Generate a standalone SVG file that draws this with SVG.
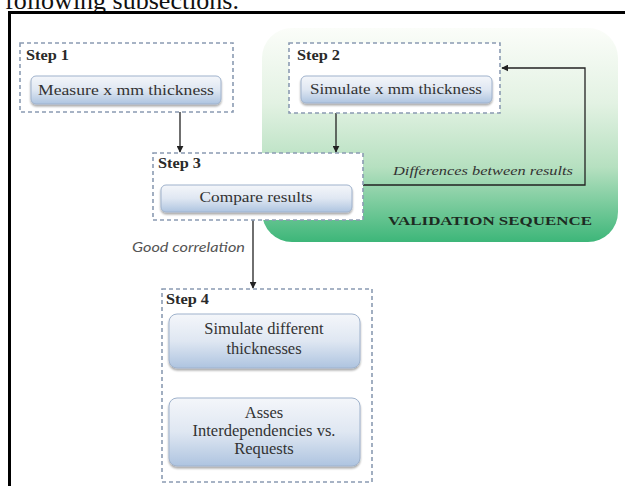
<svg xmlns="http://www.w3.org/2000/svg" width="625" height="486" viewBox="0 0 625 486">
<defs>
<linearGradient id="green" x1="0" y1="0" x2="0" y2="1">
<stop offset="0" stop-color="#fbfdf9"/>
<stop offset="0.35" stop-color="#e3f2e3"/>
<stop offset="0.65" stop-color="#b6e0c0"/>
<stop offset="1" stop-color="#3db679"/>
</linearGradient>
<linearGradient id="btn" x1="0" y1="0" x2="0" y2="1">
<stop offset="0" stop-color="#f4f6fa"/>
<stop offset="0.5" stop-color="#dfe7f2"/>
<stop offset="1" stop-color="#aec4e0"/>
</linearGradient>
<filter id="sh" x="-10%" y="-20%" width="120%" height="150%">
<feGaussianBlur in="SourceAlpha" stdDeviation="1.2"/>
<feOffset dx="0" dy="1.5" result="b"/>
<feComponentTransfer><feFuncA type="linear" slope="0.35"/></feComponentTransfer>
<feMerge><feMergeNode/><feMergeNode in="SourceGraphic"/></feMerge>
</filter>
<marker id="arr" viewBox="0 0 10 10" refX="9" refY="5" markerWidth="7" markerHeight="7" orient="auto" markerUnits="userSpaceOnUse">
<path d="M0,0 L10,5 L0,10 z" fill="#222"/>
</marker>
</defs>
<style>
.step{fill:#ffffff;stroke:#8b9bb2;stroke-width:1.6;stroke-dasharray:4 3}
.btn{fill:url(#btn);stroke:#9fb2cc;stroke-width:1}
.lbl{font-family:"Liberation Serif",serif;font-size:14px;font-weight:bold;fill:#2a2a2a}
.t{font-family:"Liberation Serif",serif;font-size:15px;fill:#333;text-anchor:middle}
.t4{font-family:"Liberation Serif",serif;font-size:16.5px;fill:#333;text-anchor:middle}
.conn{stroke:#222;stroke-width:1.3;fill:none}
</style>
<text x="5" y="9" font-family="Liberation Serif, serif" font-size="26" fill="#111">following subsections.</text>
<rect x="0" y="13" width="625" height="473" fill="#ffffff"/>
<path d="M9.5,486 V12.5 H625" fill="none" stroke="#000" stroke-width="3"/>
<g id="validation">
<rect x="262" y="28" width="356" height="214" rx="30" ry="30" fill="url(#green)"/>
<text x="490" y="225" text-anchor="middle" font-family="Liberation Serif, serif" font-size="13" font-weight="bold" fill="#1d2b22" textLength="204" lengthAdjust="spacingAndGlyphs">VALIDATION SEQUENCE</text>
</g>
<g id="connectors">
<line class="conn" x1="180" y1="112" x2="180" y2="152" marker-end="url(#arr)"/>
<line class="conn" x1="336" y1="113" x2="336" y2="152" marker-end="url(#arr)"/>
<polyline class="conn" points="363,185 585,185 585,68 502,68" stroke="#3a4f42" marker-end="url(#arr)"/>
<text x="483" y="175" text-anchor="middle" font-family="Liberation Serif, serif" font-size="13" font-style="italic" fill="#333" textLength="180" lengthAdjust="spacingAndGlyphs">Differences  between results</text>
<line class="conn" x1="253" y1="220" x2="253" y2="288" marker-end="url(#arr)"/>
<text x="132" y="252" font-family="Lato, sans-serif" font-size="14" font-style="italic" fill="#555" textLength="113" lengthAdjust="spacingAndGlyphs">Good correlation</text>
<line class="conn" x1="254" y1="368" x2="254" y2="397" marker-end="url(#arr)"/>
</g>
<g id="step1">
<rect class="step" x="20" y="43" width="213" height="69"/>
<text class="lbl" x="26" y="60" textLength="43" lengthAdjust="spacingAndGlyphs">Step 1</text>
<rect class="btn" x="31" y="76" width="190" height="28" rx="5" filter="url(#sh)"/>
<text class="t" x="126" y="95" textLength="176" lengthAdjust="spacingAndGlyphs">Measure x mm thickness</text>
</g>
<g id="step2">
<rect class="step" x="289" y="43" width="211" height="70"/>
<text class="lbl" x="297" y="60" textLength="43" lengthAdjust="spacingAndGlyphs">Step 2</text>
<rect class="btn" x="301" y="76" width="191" height="27" rx="5" filter="url(#sh)"/>
<text class="t" x="396" y="94" textLength="172" lengthAdjust="spacingAndGlyphs">Simulate x mm thickness</text>
</g>
<g id="step3">
<rect class="step" x="153" y="153" width="210" height="67"/>
<text class="lbl" x="158" y="168" textLength="43" lengthAdjust="spacingAndGlyphs">Step 3</text>
<rect class="btn" x="161" y="185" width="191" height="27" rx="5" filter="url(#sh)"/>
<text class="t" x="256" y="202" textLength="113" lengthAdjust="spacingAndGlyphs">Compare results</text>
</g>
<g id="step4">
<rect class="step" x="162" y="289" width="210" height="193"/>
<text class="lbl" x="166" y="304" textLength="43" lengthAdjust="spacingAndGlyphs">Step 4</text>
<rect class="btn" x="169" y="314" width="191" height="54" rx="8" filter="url(#sh)"/>
<text class="t4" x="264" y="334">Simulate different</text>
<text class="t4" x="264" y="354">thicknesses</text>
<rect class="btn" x="169" y="398" width="191" height="68" rx="8" filter="url(#sh)"/>
<text class="t4" x="264" y="418">Asses</text>
<text class="t4" x="264" y="436">Interdependencies vs.</text>
<text class="t4" x="264" y="454">Requests</text>
</g>
</svg>
